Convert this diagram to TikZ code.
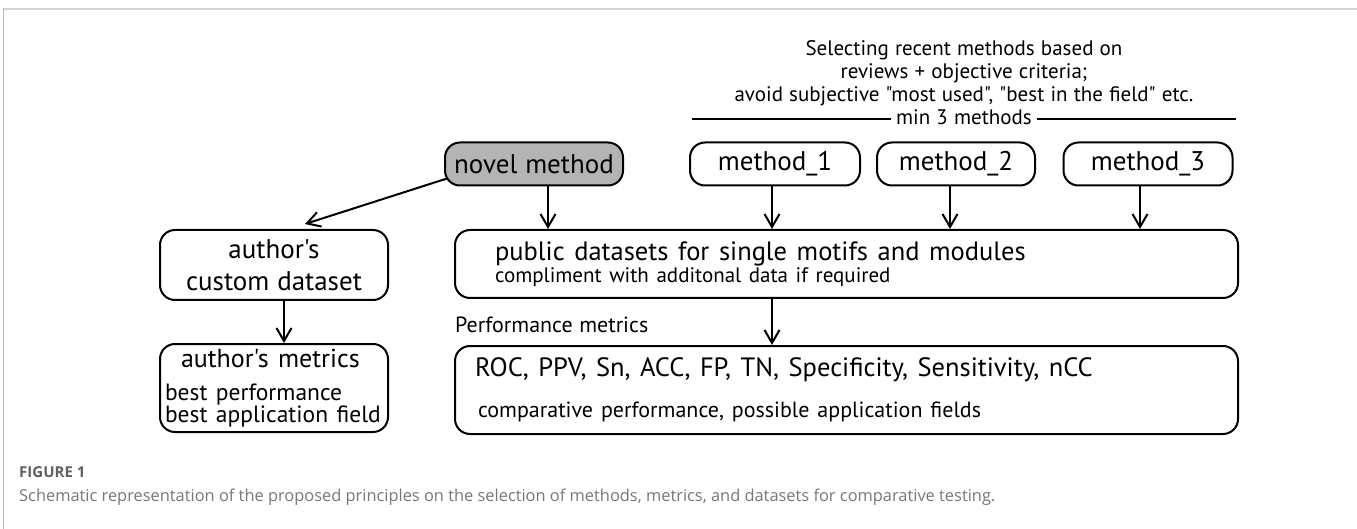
\documentclass[tikz,border=0pt]{standalone}
\usepackage{fontspec}
\newfontfamily\diafont[WordSpace=1.1]{PT Sans}
\newfontfamily\capfont{Open Sans}
\usetikzlibrary{positioning}
\usetikzlibrary{arrows.meta}
\definecolor{boxgray}{RGB}{180,180,180}
\definecolor{capgray}{RGB}{95,95,95}
\newcommand{\gapfix}{\spaceskip=.36em plus .1em\relax}
\tikzset{box/.style = {draw, line width=2pt, rounded corners=15pt, inner sep=0pt}}
\tikzset{pill/.style = {box, minimum height=43pt, font=\diafont\fontsize{27}{30}\selectfont}}
\tikzset{link/.style = {-{Straight Barb[length=13pt,width=15pt,line width=2pt]}, line width=2pt}}

\begin{document}
\begin{tikzpicture}[x=1pt,y=-1pt]
    \useasboundingbox (0,0) rectangle (1357,529);
    % frame of the figure
    \draw [gray!35, line width=2pt] (3,9) -- (1357,9);
    \draw [gray!55, line width=0.6pt] (3,9) -- (3,529);
    % header
    \node (sel) [font=\diafont\fontsize{21}{23}\selectfont, align=center] at (964,73)
        {Selecting recent methods based on\\ reviews + objective criteria;\\ avoid subjective "most used", "best in the field" etc.};
    \node (min) [font=\diafont\fontsize{21}{23}\selectfont, inner xsep=5pt] at (964,117) {min 3 methods};
    \coordinate (minl) at (692,119);
    \coordinate (minr) at (1236,119);
    \draw [line width=2pt] (minl) -- (minl -| min.west);
    \draw [line width=2pt] (minr -| min.east) -- (minr);
    % methods
    \node (novel) [pill, fill=boxgray, minimum width=178pt] at (534,164) {novel method};
    \node (m1) [pill, minimum width=170pt] at (775,164) {method\_1};
    \node (m2) [pill, minimum width=158pt] at (956,164) {method\_2};
    \node (m3) [pill, minimum width=169pt] at (1148,164) {method\_3};
    % datasets
    \node (custom) [box, minimum width=228pt, minimum height=70pt, align=center,
        font=\diafont\fontsize{27}{32}\selectfont] at (274,265) {author's\\ custom dataset};
    \node (public) [box, minimum width=783pt, minimum height=68pt, text width=703pt, align=left,
        font=\diafont] at (846.5,264)
        {\fontsize{26.5}{27}\selectfont\gapfix public datasets for single motifs and modules\\
         \fontsize{21}{25}\selectfont\gapfix compliment with additonal data if required};
    % metrics
    \node (perf) [font=\diafont\fontsize{22}{22}\selectfont, anchor=west, inner sep=0pt] at (455,325) {Performance metrics};
    \node (authm) [box, minimum width=228pt, minimum height=88pt, text width=218pt, align=left,
        font=\diafont] at (274,388)
        {\fontsize{26}{30}\selectfont\gapfix\hspace*{16pt}author's metrics\\[12pt]
         \fontsize{23.5}{21}\selectfont\gapfix best performance\\ best application field};
    \node (roc) [box, minimum width=783pt, minimum height=88pt, text width=743pt, align=left,
        font=\diafont] at (846.5,390)
        {\fontsize{26.5}{28}\selectfont\gapfix ROC, PPV, Sn, ACC, FP, TN, Specificity, Sensitivity, nCC\\[19pt]
         \fontsize{22}{24}\selectfont\gapfix\hspace*{3pt}comparative performance, possible application fields};
    % arrows
    \draw [link] ([xshift=3pt,yshift=8pt]novel.south west) -- ([xshift=31pt,yshift=5pt]custom.north);
    \draw [link] ([xshift=14pt]novel.south) -- ([xshift=14pt]novel.south |- public.north);
    \foreach \m/\dx in {m1/-3, m2/-6, m3/-8} {
        \draw [link] ([xshift=\dx pt]\m.south) -- ([xshift=\dx pt]\m.south |- public.north);
    }
    \draw [link] ([xshift=10pt]custom.south) -- ([xshift=10pt]custom.south |- authm.north);
    \draw [link] ([xshift=-3pt]public.south -| m1.south) coordinate (pb) -- (pb |- roc.north);
    % caption
    \node (fig) [font=\capfont\bfseries\fontsize{15}{18}\selectfont, text=capgray, anchor=west, inner sep=0pt] at (19,472) {FIGURE 1};
    \node (cap) [font=\capfont\fontsize{16.4}{19}\selectfont, text=capgray!85, anchor=west, inner sep=0pt] at (19,497)
        {Schematic representation of the proposed principles on the selection of methods, metrics, and datasets for comparative testing.};
\end{tikzpicture}
\end{document}
